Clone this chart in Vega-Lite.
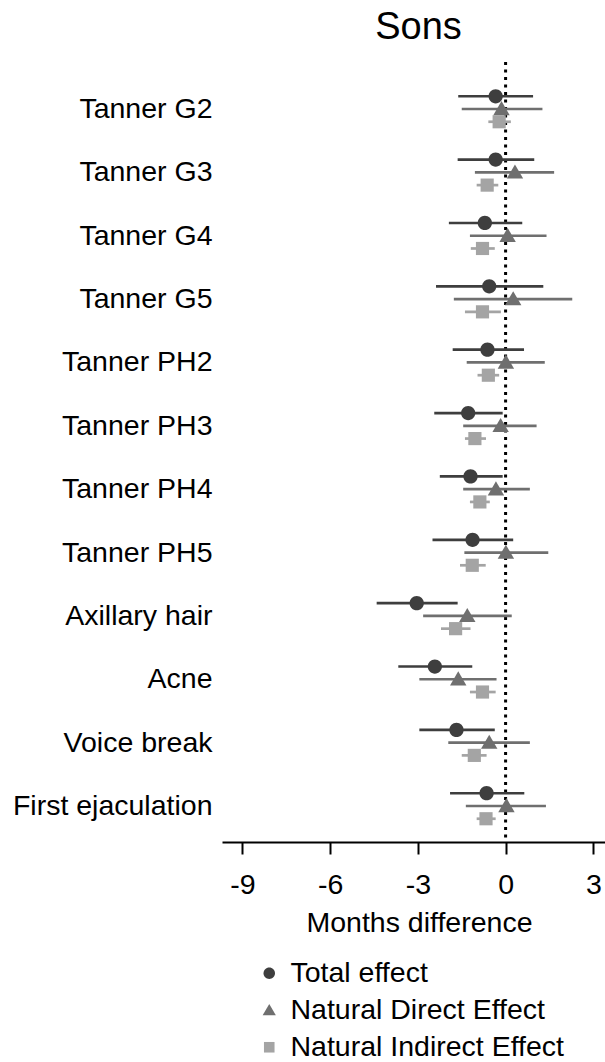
{
  "$schema": "https://vega.github.io/schema/vega-lite/v6.json",
  "width": 383,
  "height": 780,
  "autosize": {"type": "none"},
  "padding": {"left": 222, "top": 62, "right": 0, "bottom": 220},
  "config": {
    "font": "Liberation Sans",
    "view": {"stroke": null},
    "legend": {
      "orient": "none",
      "legendX": 33,
      "legendY": 897,
      "direction": "vertical",
      "labelFontSize": 28.5,
      "labelColor": "#000000",
      "labelOffset": 7,
      "rowPadding": 8,
      "padding": 0,
      "labelLimit": 400,
      "symbolSize": 155,
      "symbolStrokeWidth": 0
    }
  },
  "title": {
    "text": "Sons",
    "fontSize": 38,
    "fontWeight": "normal",
    "color": "#000000",
    "baseline": "alphabetic",
    "offset": 19,
    "dy": 35,
    "anchor": "middle",
    "dx": 5
  },
  "data": {
    "values": [
      {"outcome": "Tanner G2", "effect": "Total effect", "est": -0.34, "lo": -1.62, "hi": 0.94},
      {"outcome": "Tanner G2", "effect": "Natural Direct Effect", "est": -0.14, "lo": -1.50, "hi": 1.26},
      {"outcome": "Tanner G2", "effect": "Natural Indirect Effect", "est": -0.22, "lo": -0.59, "hi": 0.18},
      {"outcome": "Tanner G3", "effect": "Total effect", "est": -0.34, "lo": -1.64, "hi": 0.98},
      {"outcome": "Tanner G3", "effect": "Natural Direct Effect", "est": 0.32, "lo": -1.05, "hi": 1.66},
      {"outcome": "Tanner G3", "effect": "Natural Indirect Effect", "est": -0.63, "lo": -0.99, "hi": -0.25},
      {"outcome": "Tanner G4", "effect": "Total effect", "est": -0.71, "lo": -1.94, "hi": 0.57},
      {"outcome": "Tanner G4", "effect": "Natural Direct Effect", "est": 0.07, "lo": -1.22, "hi": 1.40},
      {"outcome": "Tanner G4", "effect": "Natural Indirect Effect", "est": -0.79, "lo": -1.19, "hi": -0.37},
      {"outcome": "Tanner G5", "effect": "Total effect", "est": -0.56, "lo": -2.38, "hi": 1.29},
      {"outcome": "Tanner G5", "effect": "Natural Direct Effect", "est": 0.26, "lo": -1.77, "hi": 2.28},
      {"outcome": "Tanner G5", "effect": "Natural Indirect Effect", "est": -0.79, "lo": -1.39, "hi": -0.16},
      {"outcome": "Tanner PH2", "effect": "Total effect", "est": -0.62, "lo": -1.81, "hi": 0.63},
      {"outcome": "Tanner PH2", "effect": "Natural Direct Effect", "est": 0.01, "lo": -1.33, "hi": 1.34},
      {"outcome": "Tanner PH2", "effect": "Natural Indirect Effect", "est": -0.59, "lo": -0.96, "hi": -0.22},
      {"outcome": "Tanner PH3", "effect": "Total effect", "est": -1.28, "lo": -2.44, "hi": -0.10},
      {"outcome": "Tanner PH3", "effect": "Natural Direct Effect", "est": -0.17, "lo": -1.45, "hi": 1.06},
      {"outcome": "Tanner PH3", "effect": "Natural Indirect Effect", "est": -1.05, "lo": -1.39, "hi": -0.67},
      {"outcome": "Tanner PH4", "effect": "Total effect", "est": -1.20, "lo": -2.25, "hi": -0.10},
      {"outcome": "Tanner PH4", "effect": "Natural Direct Effect", "est": -0.33, "lo": -1.45, "hi": 0.83},
      {"outcome": "Tanner PH4", "effect": "Natural Indirect Effect", "est": -0.88, "lo": -1.22, "hi": -0.54},
      {"outcome": "Tanner PH5", "effect": "Total effect", "est": -1.13, "lo": -2.50, "hi": 0.26},
      {"outcome": "Tanner PH5", "effect": "Natural Direct Effect", "est": 0.01, "lo": -1.41, "hi": 1.46},
      {"outcome": "Tanner PH5", "effect": "Natural Indirect Effect", "est": -1.14, "lo": -1.56, "hi": -0.68},
      {"outcome": "Axillary hair", "effect": "Total effect", "est": -3.04, "lo": -4.41, "hi": -1.64},
      {"outcome": "Axillary hair", "effect": "Natural Direct Effect", "est": -1.31, "lo": -2.82, "hi": 0.21},
      {"outcome": "Axillary hair", "effect": "Natural Indirect Effect", "est": -1.71, "lo": -2.21, "hi": -1.20},
      {"outcome": "Acne", "effect": "Total effect", "est": -2.42, "lo": -3.67, "hi": -1.14},
      {"outcome": "Acne", "effect": "Natural Direct Effect", "est": -1.62, "lo": -2.95, "hi": -0.31},
      {"outcome": "Acne", "effect": "Natural Indirect Effect", "est": -0.79, "lo": -1.22, "hi": -0.34},
      {"outcome": "Voice break", "effect": "Total effect", "est": -1.68, "lo": -2.95, "hi": -0.37},
      {"outcome": "Voice break", "effect": "Natural Direct Effect", "est": -0.56, "lo": -1.96, "hi": 0.83},
      {"outcome": "Voice break", "effect": "Natural Indirect Effect", "est": -1.07, "lo": -1.50, "hi": -0.65},
      {"outcome": "First ejaculation", "effect": "Total effect", "est": -0.65, "lo": -1.90, "hi": 0.64},
      {"outcome": "First ejaculation", "effect": "Natural Direct Effect", "est": 0.03, "lo": -1.36, "hi": 1.38},
      {"outcome": "First ejaculation", "effect": "Natural Indirect Effect", "est": -0.67, "lo": -0.99, "hi": -0.34}
    ]
  },
  "encoding": {
    "y": {
      "field": "outcome",
      "type": "nominal",
      "sort": null,
      "scale": {"paddingInner": 0, "paddingOuter": 0.155, "align": 0.78},
      "axis": {
        "title": null,
        "domain": false,
        "ticks": false,
        "labelFontSize": 28.5,
        "labelColor": "#000000",
        "labelPadding": 10,
        "labelLimit": 400
      }
    },
    "yOffset": {
      "field": "effect",
      "type": "nominal",
      "sort": ["Total effect", "Natural Direct Effect", "Natural Indirect Effect"],
      "scale": {"paddingInner": 0, "paddingOuter": 0.985}
    }
  },
  "layer": [
    {
      "data": {"values": [{"ref": 0}]},
      "mark": {"type": "rule", "color": "#000000", "strokeWidth": 3, "strokeDash": [3, 4.5]},
      "encoding": {
        "x": {"field": "ref", "type": "quantitative"},
        "y": null,
        "yOffset": null
      }
    },
    {
      "mark": {"type": "rule", "strokeWidth": 2.7},
      "encoding": {
        "x": {
          "field": "lo",
          "type": "quantitative",
          "scale": {"domain": [-9.7, 3.4], "nice": false, "zero": false},
          "axis": {
            "values": [-9, -6, -3, 0, 3],
            "labelExpr": "'' + datum.value",
            "grid": false,
            "domainColor": "#000000",
            "domainWidth": 2,
            "tickColor": "#000000",
            "tickWidth": 2,
            "tickSize": 12,
            "labelFontSize": 28.5,
            "labelColor": "#000000",
            "labelPadding": 16,
            "title": "Months difference",
            "titleFontSize": 28.5,
            "titleFontWeight": "normal",
            "titleColor": "#000000",
            "titlePadding": 10,
            "titleX": 197
          }
        },
        "x2": {"field": "hi"},
        "color": {
          "field": "effect",
          "type": "nominal",
          "title": null,
          "scale": {
            "domain": ["Total effect", "Natural Direct Effect", "Natural Indirect Effect"],
            "range": ["#3e3e3e", "#6f6f6f", "#a4a4a4"]
          }
        }
      }
    },
    {
      "mark": {"type": "point", "filled": true, "opacity": 1, "size": 240},
      "encoding": {
        "x": {"field": "est", "type": "quantitative"},
        "color": {"field": "effect", "type": "nominal", "title": null},
        "shape": {
          "field": "effect",
          "type": "nominal",
          "title": null,
          "scale": {
            "domain": ["Total effect", "Natural Direct Effect", "Natural Indirect Effect"],
            "range": [
              "M0.92,0A0.92,0.92 0 1,1 -0.92,0A0.92,0.92 0 1,1 0.92,0Z",
              "M0,-1.02L1.06,0.8L-1.06,0.8Z",
              "M-0.85,-0.85L0.85,-0.85L0.85,0.85L-0.85,0.85Z"
            ]
          }
        }
      }
    }
  ]
}
